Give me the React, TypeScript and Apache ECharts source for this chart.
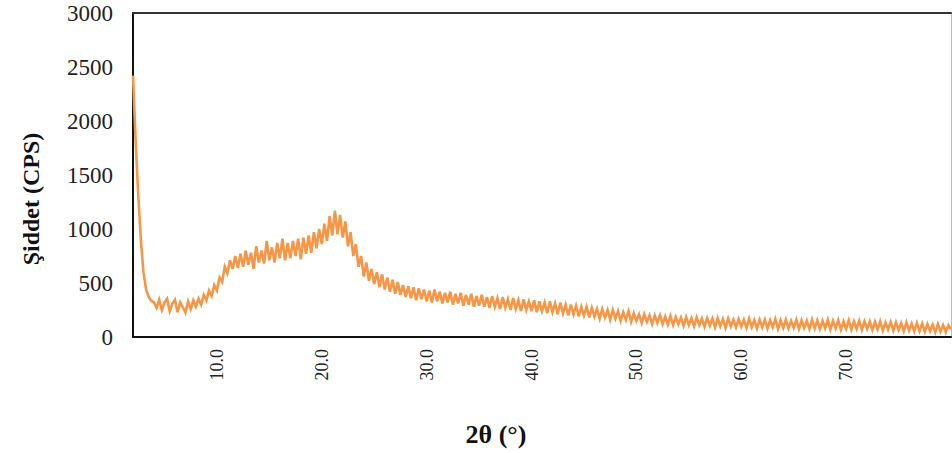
import React, { useEffect, useRef } from "react";
import * as echarts from "echarts";

// 2θ grid of the scan (degrees)
const startAngle = 2.0;
const stepAngle = 0.25;

// Intensity (CPS), one value per 0.25° from 2.0° to 80.0°
const intensity: number[] = [
  2420, 1820, 1310, 900, 600, 440, 370, 335, 320, 270, 345, 250, 320, 355, 240, 310, 345, 230, 320, 275,
  225, 330, 260, 340, 280, 355, 300, 390, 340, 430, 380, 480, 430, 550, 510, 650, 590, 710, 630, 750,
  640, 770, 650, 800, 670, 780, 630, 840, 690, 800, 680, 890, 710, 830, 690, 870, 730, 910, 710, 870,
  730, 890, 750, 910, 720, 920, 770, 940, 780, 970, 820, 1000, 860, 1050, 890, 1120, 940, 1170, 950, 1130,
  920, 1070, 840, 970, 750, 860, 650, 750, 560, 690, 520, 630, 490, 600, 460, 580, 440, 550, 420, 530,
  400, 510, 390, 480, 370, 470, 360, 460, 340, 450, 350, 440, 330, 430, 320, 440, 330, 420, 310, 410,
  320, 420, 300, 400, 310, 410, 290, 390, 300, 400, 280, 380, 290, 390, 280, 370, 270, 380, 280, 360,
  260, 370, 270, 350, 250, 360, 260, 340, 240, 350, 250, 330, 240, 340, 230, 330, 240, 320, 220, 330,
  230, 310, 210, 320, 220, 300, 200, 300, 210, 290, 190, 280, 200, 280, 180, 270, 190, 260, 170, 260,
  180, 250, 160, 250, 170, 240, 150, 230, 160, 240, 140, 220, 150, 210, 130, 210, 140, 200, 120, 200,
  130, 200, 120, 190, 115, 195, 110, 185, 120, 180, 105, 185, 110, 175, 100, 180, 110, 170, 95, 175,
  105, 170, 90, 175, 100, 165, 85, 170, 100, 160, 90, 165, 95, 160, 85, 170, 90, 155, 80, 160,
  90, 160, 80, 155, 90, 165, 75, 155, 85, 160, 80, 150, 85, 160, 75, 155, 85, 150, 75, 160,
  80, 155, 75, 150, 80, 160, 70, 150, 80, 155, 70, 145, 75, 155, 70, 145, 75, 150, 65, 145,
  75, 145, 65, 140, 70, 145, 60, 135, 70, 140, 60, 135, 65, 130, 55, 135, 60, 125, 55, 130,
  55, 125, 50, 120, 55, 115, 45, 120, 50, 110, 45, 110, 70,
];

const xTickLabels: number[] = [10, 20, 30, 40, 50, 60, 70];
const yTicks: number[] = [0, 500, 1000, 1500, 2000, 2500, 3000];

const xTitle = "2θ (°)";
const yTitle = "Şiddet (CPS)";

export default function App() {
  const ref = useRef<HTMLDivElement>(null);

  useEffect(() => {
    document.body.style.margin = "0";
    if (!ref.current) return;
    const chart = echarts.init(ref.current, undefined, { renderer: "svg" });
    const data = intensity.map((v, i) => [startAngle + i * stepAngle, v]);
    const serif = "'Liberation Serif', 'Times New Roman', serif";

    chart.setOption({
      animation: false,
      backgroundColor: "#ffffff",
      grid: { left: 133, right: 1, top: 13, bottom: 116, containLabel: false },
      xAxis: [
        {
          type: "value",
          min: startAngle,
          max: 80,
          position: "bottom",
          axisLine: { show: true, onZero: false, lineStyle: { color: "#111", width: 2 } },
          axisTick: { show: false },
          splitLine: { show: false },
          axisLabel: {
            customValues: xTickLabels,
            rotate: 90,
            margin: 12,
            fontFamily: serif,
            fontSize: 18,
            color: "#222",
            formatter: (v: number) => v.toFixed(1),
          },
        },
        {
          type: "value",
          min: startAngle,
          max: 80,
          position: "top",
          axisLine: { show: true, onZero: false, lineStyle: { color: "#333", width: 2 } },
          axisTick: { show: false },
          axisLabel: { show: false },
          splitLine: { show: false },
        },
      ],
      yAxis: [
        {
          type: "value",
          min: 0,
          max: 3000,
          interval: 500,
          position: "left",
          axisLine: { show: true, onZero: false, lineStyle: { color: "#111", width: 2 } },
          axisTick: { show: false },
          splitLine: { show: false },
          axisLabel: {
            customValues: yTicks,
            margin: 20,
            fontFamily: serif,
            fontSize: 23,
            color: "#222",
            formatter: (v: number) => String(v),
          },
        },
        {
          type: "value",
          min: 0,
          max: 3000,
          position: "right",
          axisLine: { show: true, onZero: false, lineStyle: { color: "#bbbbbb", width: 1 } },
          axisTick: { show: false },
          axisLabel: { show: false },
          splitLine: { show: false },
        },
      ],
      graphic: [
        {
          type: "text",
          x: 496,
          y: 434,
          style: {
            text: xTitle,
            fontFamily: serif,
            fontWeight: "bold",
            fontSize: 26,
            fill: "#111",
            textAlign: "center",
            textVerticalAlign: "middle",
          },
        },
        {
          type: "text",
          x: 31,
          y: 199,
          rotation: Math.PI / 2,
          style: {
            text: yTitle,
            fontFamily: serif,
            fontWeight: "bold",
            fontSize: 24,
            fill: "#111",
            textAlign: "center",
            textVerticalAlign: "middle",
          },
        },
      ],
      series: [
        {
          type: "line",
          xAxisIndex: 0,
          yAxisIndex: 0,
          data,
          showSymbol: false,
          symbol: "none",
          clip: true,
          lineStyle: { color: "#F79646", width: 2.6, join: "miter" },
        },
      ],
    });

    return () => chart.dispose();
  }, []);

  return (
    <div
      ref={ref}
      style={{ width: 952, height: 453, position: "fixed", left: 0, top: 0, background: "#fff" }}
    />
  );
}
